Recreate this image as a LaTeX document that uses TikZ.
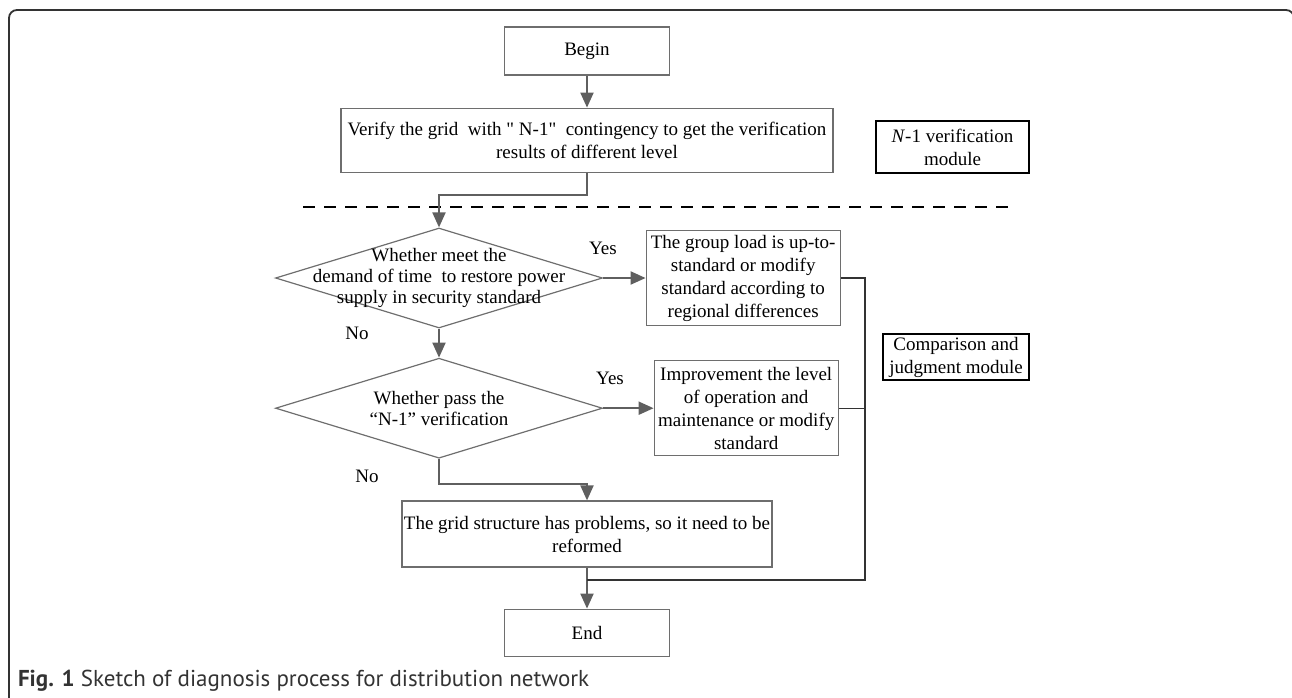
\documentclass[tikz,border=0pt]{standalone}
\usepackage{fontspec}
\setmainfont{Liberation Serif}
\newfontfamily\capfont{PT Sans}
\usetikzlibrary{shapes.geometric,arrows.meta,positioning,calc}

\definecolor{linegray}{HTML}{5F5F5F}
\definecolor{boxgray}{HTML}{6E6E6E}
\definecolor{framegray}{HTML}{333333}

\tikzset{
  procbox/.style={draw=boxgray, line width=0.6pt, rectangle, align=center,
    inner sep=1pt, font=\fontsize{9.5}{11.5}\selectfont},
  modbox/.style={draw=black, line width=0.6pt, rectangle, align=center,
    inner sep=1pt, font=\fontsize{9.5}{11.5}\selectfont},
  decision/.style={draw=boxgray, line width=0.6pt, diamond, inner sep=0pt},
  dectext/.style={align=center, font=\fontsize{9.5}{10.5}\selectfont},
  lbl/.style={font=\fontsize{9.5}{11}\selectfont},
  flow/.style={draw=linegray, line width=1pt,
    -{Triangle[length=7.5pt,width=6.5pt]}},
  bus/.style={draw=framegray, line width=0.7pt}
}

\begin{document}
\begin{tikzpicture}[x=1pt,y=1pt]
      \useasboundingbox (0,0) rectangle (646,-348.5);
      % Outer frame
      \draw[framegray, line width=0.9pt, rounded corners=4pt]
        (4.5,-360) -- (4.5,-5) -- (647,-5) -- (647,-360);
      % Add the process steps
      \node[procbox,
        minimum width=82.5pt,
        minimum height=24pt] (begin) at (293.5,-25.5) {Begin};
      \node[procbox,
        below=16pt of begin,
        minimum width=246pt,
        minimum height=32pt] (verify) {Verify the grid\ \ with \textquotedbl\ N-1\textquotedbl\ \ contingency to get the verification\\results of different level};
      \node[modbox,
        minimum width=76.5pt,
        minimum height=26pt] (nmod) at (476.25,-73.5) {\textit{N}-1 verification\\module};
      % Dashed separator
      \coordinate (dashL) at (151.5,-103.5);
      \coordinate (dashR) at (507.5,-103.5);
      \draw[black, line width=0.7pt, dash pattern=on 6pt off 4.5pt] (dashL) -- (dashR);
      % Add the decisions
      \node[decision,
        minimum width=163.5pt,
        minimum height=50pt] (d1) at (219.5,-139) {};
      \node[dectext] (d1text) at (d1) {Whether meet the\\demand of time\ \ to restore power\\supply in security standard};
      \node[procbox,
        right=21.25pt of d1,
        minimum width=97pt,
        minimum height=47.5pt] (std) {The group load is up-to-\\standard or modify\\standard according to\\regional differences};
      \node[decision,
        below=14.5pt of d1,
        minimum width=163.5pt,
        minimum height=50pt] (d2) {};
      \node[dectext] (d2text) at (d2) {Whether pass the\\“N-1”\ verification};
      \node[procbox,
        right=25.25pt of d2,
        minimum width=92pt,
        minimum height=47.5pt] (oper) {Improvement the level\\of operation and\\maintenance or modify\\standard};
      \node[procbox,
        minimum width=185pt,
        minimum height=33pt] (reform) at (293.5,-267) {The grid structure has problems, so it need to be\\reformed};
      \node[procbox,
        below=20.5pt of reform,
        minimum width=82.5pt,
        minimum height=23.5pt] (end) {End};
      \node[modbox,
        minimum width=73pt,
        minimum height=23pt] (cmod) at (478,-178.5) {Comparison and\\judgment module};
      % Branch labels
      \node[lbl] (yes1) at (301.5,-124) {Yes};
      \node[lbl] (no1) at (178.5,-166.5) {No};
      \node[lbl] (yes2) at (305,-189) {Yes};
      \node[lbl] (no2) at (183.5,-238) {No};
      % Connect the steps with arrows
      \coordinate (bend1) at ($(verify.south)+(0,-11)$);
      \coordinate (bend2) at ($(d2.south)+(0,-12.5)$);
      \coordinate (busx) at (432.5,0);
      \coordinate (merge) at ($(reform.south)!0.3!(end.north)$);
      \draw[flow] (begin) -- (verify);
      \draw[flow] (verify.south) -- (bend1) -| (d1.north);
      \draw[flow] (d1.east) -- (std.west);
      \draw[flow] (d1.south) -- (d2.north);
      \draw[flow] (d2.east) -- (oper.west);
      \draw[flow] (d2.south) -- (bend2) -| (reform.north);
      \draw[flow] (reform.south) -- (end.north);
      % Collect the right-hand results
      \draw[bus] (std.east) -- (std.east -| busx) -- (busx |- merge) -- (merge);
      \draw[bus] (oper.east) -- (oper.east -| busx);
      % Caption
      \node[anchor=west, font=\capfont\fontsize{11.5}{13}\selectfont, text=framegray] (caption) at (5.5,-340.5)
        {\textbf{Fig. 1} Sketch of diagnosis process for distribution network};
    \end{tikzpicture}
\end{document}
